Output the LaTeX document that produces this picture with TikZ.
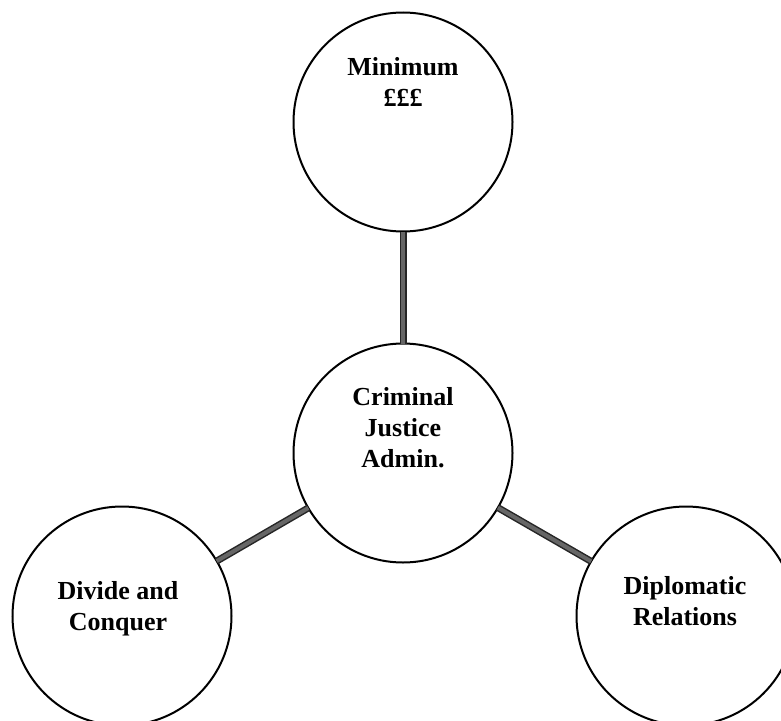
\documentclass[tikz,border=0pt]{standalone}
\usepackage{fontspec}
\setmainfont{Liberation Serif}
\begin{document}
\begin{tikzpicture}[x=1pt,y=-1pt,
  bubble/.style={circle,draw=black,line width=2pt,minimum size=219pt,inner sep=0pt,outer sep=0pt},
  lbl/.style={font=\fontsize{26}{31}\selectfont\bfseries,align=center,inner sep=0pt,anchor=base},
  link/.style={line width=1.5pt,draw=black!85,double=black!60,double distance=4pt}]
\useasboundingbox (0,0) rectangle (781,720);
\node[bubble] (top) at (403,122) {};
\node[bubble] (mid) at (403,453) {};
\node[bubble] (left) at (122,616) {};
\node[bubble] (right) at (686,616) {};
\draw[link] (top) -- (mid);
\draw[link] (mid) -- (left);
\draw[link] (mid) -- (right);
\node[lbl] (ttop) at (403,106) {Minimum\\£££};
\node[lbl] (tmid) at (403,467) {Criminal\\Justice\\Admin.};
\node[lbl] (tleft) at (118,630) {Divide and\\Conquer};
\node[lbl] (tright) at (685,625) {Diplomatic\\Relations};
\end{tikzpicture}
\end{document}
